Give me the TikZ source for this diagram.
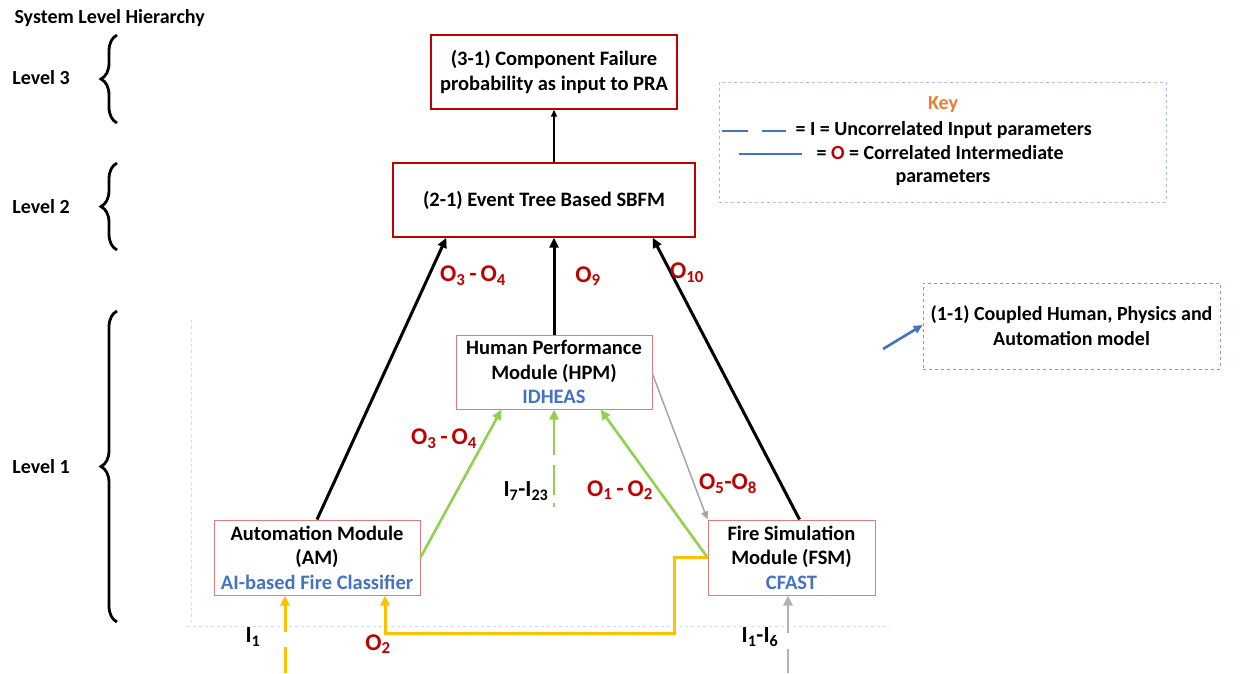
\documentclass[tikz,border=0pt]{standalone}
\usepackage{fontspec}
\setmainfont{Carlito}
\usetikzlibrary{arrows.meta,decorations.pathreplacing}

\definecolor{boxred}{HTML}{C00000}
\definecolor{modred}{HTML}{E27C7C}
\definecolor{txtblue}{HTML}{4472C4}
\definecolor{okgreen}{HTML}{92D050}
\definecolor{gold}{HTML}{FFC000}
\definecolor{keyorange}{HTML}{ED7D31}
\definecolor{faint}{HTML}{D6DDEF}
\definecolor{keyline}{HTML}{A9BCE0}

\tikzset{
  topbox/.style={draw=boxred, line width=1.4pt, align=center, inner sep=0pt,
    font=\fontsize{20.5}{25}\selectfont\bfseries},
  modbox/.style={draw=modred, line width=1pt, align=center, inner sep=0pt,
    font=\fontsize{20.5}{24.5}\selectfont\bfseries},
  olbl/.style={text=boxred, font=\fontsize{24}{26}\selectfont\bfseries},
  ilbl/.style={font=\fontsize{23}{26}\selectfont\bfseries},
  plain/.style={font=\fontsize{20}{25}\selectfont\bfseries},
  lvlbrace/.style={decorate, decoration={brace, amplitude=16pt}, line width=2.8pt},
  blk/.style={-{Triangle[length=10pt,width=9pt]}, line width=3pt},
  grn/.style={-{Triangle[length=10pt,width=9pt]}, line width=2.6pt, okgreen},
  ylw/.style={-{Triangle[length=10pt,width=9pt]}, line width=3pt, gold},
}

\begin{document}
\begin{tikzpicture}[x=1pt, y=-1pt]
\useasboundingbox (0,0) rectangle (1241,673);

% Hierarchie vlevo
\node[plain, anchor=west] (sys) at (11,18) {System Level Hierarchy};
\node[plain] (lvl3) at (41,78) {Level 3};
\node[plain] (lvl2) at (41,207) {Level 2};
\node[plain] (lvl1) at (41,467) {Level 1};
\draw[lvlbrace] (117,123) -- (117,35);
\draw[lvlbrace] (117,250) -- (117,163);
\draw[lvlbrace] (117,622) -- (117,311);

% Ramecek urovne 1
\draw[faint, dashed, line width=0.8pt] (191,320) -- (191,626);
\draw[faint, dashed, line width=0.8pt] (187,626) -- (890,626);

% Bloky
\node[topbox, minimum width=246, minimum height=74] (pra) at (554,72)
  {(3-1) Component Failure\\probability as input to PRA};
\node[topbox, minimum width=302, minimum height=74] (sbfm) at (544,200)
  {(2-1) Event Tree Based SBFM};
\node[modbox, minimum width=196, minimum height=74] (hpm) at (554,372)
  {Human Performance\\Module (HPM)\\\textcolor{txtblue}{IDHEAS}};
\node[modbox, minimum width=206, minimum height=75] (am) at (317,557.5)
  {Automation Module\\(AM)\\\textcolor{txtblue}{AI-based Fire Classifier}};
\node[modbox, minimum width=167, minimum height=75] (fsm) at (791.5,557.5)
  {Fire Simulation\\Module (FSM)\\\textcolor{txtblue}{CFAST}};

% Volne konce a lomy
\coordinate (inam) at (285,673);
\coordinate (infsm) at (788,673);
\coordinate (inhpm) at (554,507);
\coordinate (bendA) at (674,557.5);
\coordinate (bendB) at (674,633);
\coordinate (bendC) at (385,633);

% Sipky nahoru
\draw[-{Triangle[length=7pt,width=6pt]}, line width=1.8pt] (sbfm.north -| pra.south) -- (pra.south);
\draw[blk] (hpm.north) -- (hpm.north |- sbfm.south);
\draw[blk] (am.north) -- ([xshift=54]sbfm.south west);
\draw[blk] ([xshift=8]fsm.north) -- ([xshift=-43]sbfm.south east);

% Propojeni modulu
\draw[grn] (am.east) -- ([xshift=46]hpm.south west);
\draw[grn] (fsm.west) -- ([xshift=-52]hpm.south east);
\draw[grn, dash pattern=on 4pt off 8pt on 30pt off 10pt on 60pt] (inhpm) -- (hpm.south);
\draw[-{Triangle[length=8pt,width=7pt]}, line width=1.5pt, gray!70] ([yshift=-2]hpm.east) -- (fsm.north west);
\draw[ylw] (fsm.west) -- (bendA) -- (bendB) -- (bendC) -- (bendC |- am.south);
\draw[ylw, dash pattern=on 26pt off 15pt on 60pt] (inam) -- (inam |- am.south);
\draw[-{Triangle[length=10pt,width=9pt]}, line width=2.6pt, gray!60, dash pattern=on 24pt off 16pt on 60pt] (infsm) -- (infsm |- fsm.south);

% Popisky parametru
\node[olbl] (o34top) at (473,276) {O\textsubscript{3}\,-\,O\textsubscript{4}};
\node[olbl] (o9) at (588,276) {O\textsubscript{9}};
\node[olbl] (o10) at (687,273) {O\textsubscript{10}};
\node[olbl] (o34) at (444,439) {O\textsubscript{3}\,-\,O\textsubscript{4}};
\node[ilbl] (i723) at (526,491) {I\textsubscript{7}-I\textsubscript{23}};
\node[olbl] (o12) at (620,490) {O\textsubscript{1}\,-\,O\textsubscript{2}};
\node[olbl] (o58) at (728,484) {O\textsubscript{5}-O\textsubscript{8}};
\node[ilbl] (i1) at (253,637) {I\textsubscript{1}};
\node[olbl] (o2) at (378,644) {O\textsubscript{2}};
\node[ilbl] (i16) at (760,637) {I\textsubscript{1}-I\textsubscript{6}};

% Legenda
\node[draw=keyline, dashed, line width=0.8pt, minimum width=447, minimum height=120] (key) at (942.5,142) {};
\node[plain, text=keyorange] (keyt) at (943,105) {Key};
\coordinate (kd1) at (722,131);
\coordinate (kd2) at (786,131);
\coordinate (ks1) at (739,154);
\coordinate (ks2) at (802,154);
\draw[txtblue, line width=2.4pt, dash pattern=on 26pt off 14pt] (kd1) -- (kd2);
\draw[txtblue, line width=2.4pt] (ks1) -- (ks2);
\node[plain, anchor=west] (keyi) at (792,130) {= I = Uncorrelated Input parameters};
\node[plain, anchor=west] (keyo) at (813,153) {= \textcolor{boxred}{O} = Correlated Intermediate};
\node[plain] (keyo2) at (943,178) {parameters};

% Spojeny model
\node[draw=txtblue!70, dashed, line width=0.8pt, minimum width=297, minimum height=86,
  align=center, plain] (cpl) at (1071.5,326) {(1-1) Coupled Human, Physics and\\Automation model};
\coordinate (cplin) at (883,349);
\draw[-{Triangle[length=9pt,width=8pt]}, line width=2.6pt, txtblue] (cplin) -- ([yshift=1]cpl.west);
\end{tikzpicture}
\end{document}
